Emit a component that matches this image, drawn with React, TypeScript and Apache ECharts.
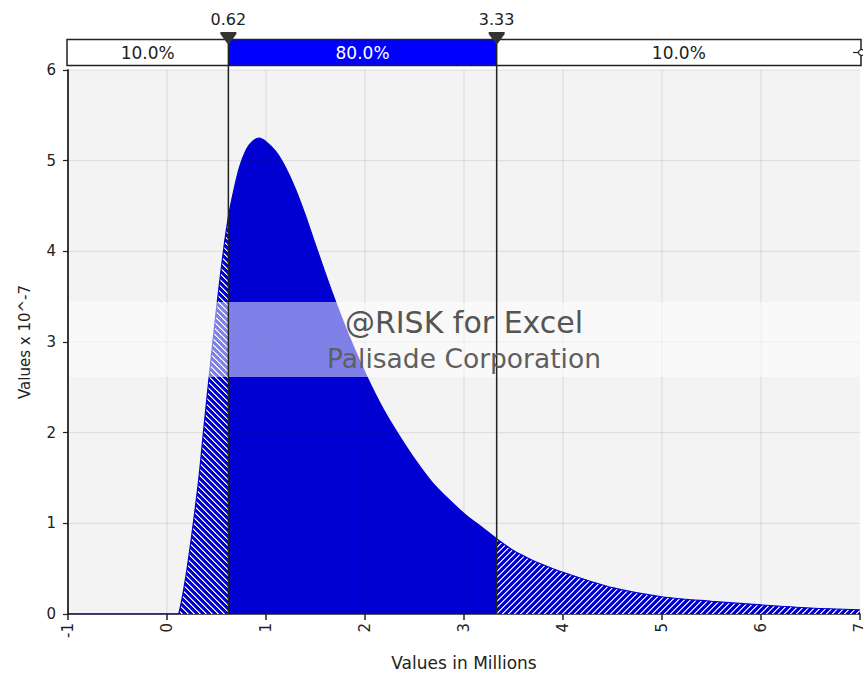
import React, { useEffect, useRef } from "react";
import * as echarts from "echarts";

// ---- data ----
const xValues = [
  -1, 0, 0.1, 0.12, 0.17, 0.22, 0.27, 0.32, 0.37, 0.43, 0.48, 0.53, 0.58, 0.62,
  0.66, 0.73, 0.8, 0.86, 0.93, 1.0, 1.1, 1.2, 1.3, 1.4, 1.5, 1.67, 1.84, 2.01,
  2.18, 2.35, 2.52, 2.68, 2.85, 3.02, 3.19, 3.33, 3.5, 3.66, 3.83, 4.0, 4.5, 5.0,
  5.5, 6.0, 6.5, 7.0,
];
const densityValues = [
  0, 0, 0, 0.01, 0.28, 0.63, 1.04, 1.48, 2.03, 2.66, 3.17, 3.65, 4.09, 4.38,
  4.6, 4.92, 5.12, 5.21, 5.25, 5.21, 5.1, 4.92, 4.68, 4.39, 4.07, 3.54, 3.06,
  2.64, 2.27, 1.96, 1.68, 1.45, 1.26, 1.09, 0.95, 0.83, 0.7, 0.61, 0.53, 0.46,
  0.29, 0.19, 0.14, 0.1, 0.066, 0.045,
];
const lowerCut = 0.62;
const upperCut = 3.33;
const cutLabels = ["0.62", "3.33"];
const bandLabels = ["10.0%", "80.0%", "10.0%"];
const xRange = [-1, 7];
const yRange = [0, 6];
const xAxisName = "Values in Millions";
const yAxisName = "Values x 10^-7";
const watermarkLines = ["@RISK for Excel", "Palisade Corporation"];

const BLUE = "#0000d2";
const FONT = "DejaVu Sans";

function makeHatch(dir: "/" | "\\") {
  const s = 6;
  const c = document.createElement("canvas");
  c.width = s;
  c.height = s;
  const ctx = c.getContext("2d")!;
  ctx.fillStyle = BLUE;
  ctx.fillRect(0, 0, s, s);
  for (let i = 0; i < s; i++) {
    const y = dir === "/" ? s - 1 - i : i;
    ctx.fillStyle = "#ffffff";
    ctx.fillRect(i, y, 1, 1);
    ctx.fillStyle = "#9a9af2";
    ctx.fillRect((i + 1) % s, y, 1, 1);
  }
  return c;
}

export default function App() {
  const ref = useRef<HTMLDivElement>(null);

  useEffect(() => {
    document.body.style.margin = "0";
    const el = ref.current!;
    const chart = echarts.init(el, null, { renderer: "svg" });

    const pts = xValues.map((x, i) => [x, densityValues[i]]);
    const leftPts = pts.filter((p) => p[0] <= lowerCut);
    const midPts = pts.filter((p) => p[0] >= lowerCut && p[0] <= upperCut);
    const rightPts = pts.filter((p) => p[0] >= upperCut);

    const hatchBack = { image: makeHatch("\\"), repeat: "repeat" };
    const hatchFwd = { image: makeHatch("/"), repeat: "repeat" };

    const labelStyle = { color: "#222", fontFamily: FONT, fontSize: 15 };

    const lineSeries = (data: number[][], color: any) => ({
      type: "line",
      data,
      symbol: "none",
      smooth: 0.3,
      lineStyle: { color: BLUE, width: 1.2 },
      areaStyle: { color, opacity: 1 },
      z: 4,
    });

    chart.setOption({
      animation: false,
      backgroundColor: "#ffffff",
      grid: {
        left: 68,
        right: 3,
        top: 70,
        bottom: 63,
        show: true,
        backgroundColor: "#f3f3f3",
        borderWidth: 0,
        containLabel: false,
        outerBoundsMode: "none",
      },
      xAxis: {
        type: "value",
        z: 3,
        min: xRange[0],
        max: xRange[1],
        interval: 1,
        name: xAxisName,
        nameLocation: "middle",
        nameGap: 40,
        nameTextStyle: { ...labelStyle, fontSize: 17 },
        axisLine: { show: true, onZero: false, lineStyle: { color: "#222", width: 1.5 } },
        axisTick: { show: true, length: 6, lineStyle: { color: "#222", width: 1.5 } },
        axisLabel: { ...labelStyle, rotate: 90, margin: 9 },
        splitLine: { show: false },
      },
      yAxis: {
        type: "value",
        z: 3,
        min: yRange[0],
        max: yRange[1],
        interval: 1,
        name: yAxisName,
        nameLocation: "middle",
        nameGap: 36,
        nameTextStyle: { ...labelStyle },
        axisLine: { show: true, onZero: false, lineStyle: { color: "#222", width: 1.8 } },
        axisTick: { show: true, length: 5, lineStyle: { color: "#222", width: 1.2 } },
        axisLabel: { ...labelStyle, margin: 12 },
        splitLine: { show: false },
      },
      series: [
        lineSeries(leftPts, hatchBack),
        lineSeries(midPts, BLUE),
        lineSeries(rightPts, hatchFwd),
      ],
    });

    const px = (v: number) => chart.convertToPixel({ xAxisIndex: 0 }, v) as number;
    const py = (v: number) => chart.convertToPixel({ yAxisIndex: 0 }, v) as number;
    const xL = px(xRange[0]);
    const xR = px(xRange[1]);
    const xa = px(lowerCut);
    const xb = px(upperCut);
    const y0 = py(0);
    const yTop = py(yRange[1]);

    const barTop = 39.5;
    const barH = 26;
    const barL = xL - 1;
    const barR = xR + 1;
    const barMid = barTop + barH / 2;

    const tri = (x: number) => ({
      type: "polygon",
      z: 30,
      shape: {
        points: [
          [x - 8, 32],
          [x + 8, 32],
          [x + 8, 34],
          [x, 45],
          [x - 8, 34],
        ],
      },
      style: { fill: "#333" },
    });

    const markerLine = (x: number) => ({
      type: "line",
      z: 25,
      shape: { x1: x, y1: 44, x2: x, y2: y0 },
      style: { stroke: "#222", lineWidth: 1.5 },
    });

    const txt = (x: number, y: number, s: string, size: number, fill: string) => ({
      type: "text",
      z: 31,
      x,
      y,
      style: {
        text: s,
        fill,
        font: `${size}px "${FONT}"`,
        align: "center",
        verticalAlign: "middle",
      },
    });

    const bandY1 = 302;
    const bandY2 = 377;
    const yGrid = [1, 2, 3, 4, 5, 6];
    const xGrid = [0, 1, 2, 3, 4, 5, 6];

    chart.setOption({
      graphic: [
        // grid lines drawn over the fill (they show through it in the reference)
        ...yGrid.map((v) => ({
          type: "line",
          z: 5,
          shape: { x1: xL + 1, y1: py(v), x2: xR, y2: py(v) },
          style: { stroke: "rgba(0,0,0,0.1)", lineWidth: 1 },
        })),
        ...xGrid.map((v) => ({
          type: "line",
          z: 5,
          shape: { x1: px(v), y1: yTop, x2: px(v), y2: y0 },
          style: { stroke: "rgba(0,0,0,0.1)", lineWidth: 1 },
        })),
        // watermark band
        {
          type: "rect",
          z: 20,
          shape: { x: xL + 1, y: bandY1, width: xR - xL, height: bandY2 - bandY1 },
          style: { fill: "rgba(255,255,255,0.5)" },
        },
        txt((xL + xR) / 2, 322, watermarkLines[0], 30, "#555555"),
        txt((xL + xR) / 2, 358, watermarkLines[1], 26.5, "#5f5f5f"),
        // top percentage bar
        {
          type: "rect",
          z: 22,
          shape: { x: barL, y: barTop, width: xa - barL, height: barH },
          style: { fill: "#ffffff" },
        },
        {
          type: "rect",
          z: 22,
          shape: { x: xa, y: barTop, width: xb - xa, height: barH },
          style: { fill: "#0000ff" },
        },
        {
          type: "rect",
          z: 22,
          shape: { x: xb, y: barTop, width: barR - xb, height: barH },
          style: { fill: "#ffffff" },
        },
        {
          type: "rect",
          z: 24,
          shape: { x: barL, y: barTop, width: barR - barL, height: barH },
          style: { fill: "none", stroke: "#222", lineWidth: 1.5 },
        },
        txt((barL + xa) / 2, barMid, bandLabels[0], 17, "#222"),
        txt((xa + xb) / 2, barMid, bandLabels[1], 17, "#ffffff"),
        txt((xb + barR) / 2, barMid, bandLabels[2], 17, "#222"),
        // right-end handle
        {
          type: "line",
          z: 26,
          shape: { x1: xR - 7, y1: barMid, x2: xR - 1, y2: barMid },
          style: { stroke: "#222", lineWidth: 1.2 },
        },
        {
          type: "circle",
          z: 26,
          shape: { cx: xR + 1.5, cy: barMid, r: 3 },
          style: { fill: "#fff", stroke: "#222", lineWidth: 1.2 },
        },
        // cut markers
        markerLine(xa),
        markerLine(xb),
        tri(xa),
        tri(xb),
        txt(xa, 19, cutLabels[0], 16, "#222"),
        txt(xb, 19, cutLabels[1], 16, "#222"),
      ],
    });

    return () => {
      chart.dispose();
    };
  }, []);

  return (
    <div
      ref={ref}
      style={{ position: "absolute", left: 0, top: 0, width: 863, height: 677 }}
    />
  );
}
